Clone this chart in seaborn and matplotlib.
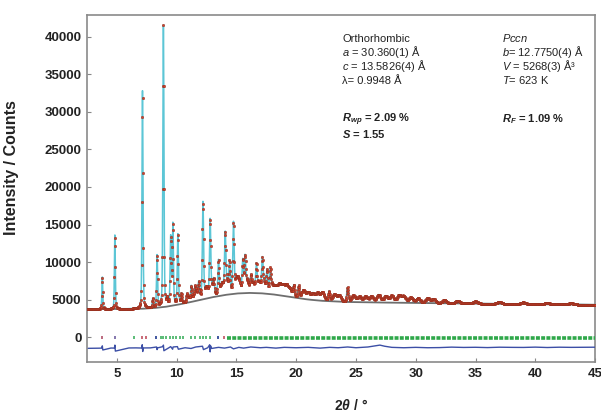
import numpy as np
import pandas as pd
import matplotlib
matplotlib.use("Agg")
import matplotlib.pyplot as plt
import seaborn as sns

# ---------------- data ----------------
# background control points (2theta, counts)
bg_tth = [2.5, 5.0, 7.0, 8.0, 9.0, 10.0, 11.0, 12.0, 13.0, 14.0, 15.0, 16.0,
          17.0, 18.0, 19.0, 20.0, 21.0, 22.0, 24.0, 26.0, 30.0, 35.0, 40.0, 45.0]
bg_cnt = [3750, 3750, 3780, 3870, 4030, 4300, 4620, 4980, 5330, 5620, 5820, 5900,
          5860, 5720, 5480, 5230, 5020, 4860, 4700, 4640, 4560, 4470, 4400, 4320]

# main reflections: position (deg) and height above background (counts)
pk_pos = [3.78, 4.83, 7.14, 8.00, 8.36, 8.89, 9.20, 9.50, 9.68, 10.10, 10.40,
          10.85, 11.22, 11.55, 11.85, 12.20, 12.80, 13.10, 13.50, 14.06, 14.42,
          14.75, 15.53, 15.72, 16.20, 16.67, 17.17, 17.56, 17.83, 19.80, 20.20,
          22.75, 24.30]
pk_hgt = [4250, 9850, 29000, 1200, 6900, 37400, 900, 9000, 10700, 9300, 1300,
          900, 1900, 1000, 1400, 12800, 10000, 1500, 4600, 7400, 4000,
          9200, 4200, 4300, 1800, 3400, 3800, 2900, 2900, 1500, 1600,
          1300, 1900]

# weak / overlapping reflections forming the diffuse hump
wk_pos = [11.0, 11.5, 11.8, 12.5, 13.0, 13.8, 14.2, 15.0, 15.2, 15.9, 16.4,
          16.9, 17.3, 18.0, 18.3, 18.6, 18.9, 19.2, 19.5, 20.6, 21.0, 21.4,
          21.8, 22.2, 23.2, 23.6, 24.8, 25.3, 25.8, 26.3, 26.9, 27.5, 28.0,
          28.6, 29.0, 29.6, 30.2, 31.0, 31.5, 32.4, 33.5, 35.0, 37.0, 39.0,
          41.0, 43.0]
wk_hgt = [600, 900, 1000, 1300, 1100, 1500, 1300, 1500, 1300, 1400, 1200,
          1300, 1200, 1000, 900, 1300, 1200, 1300, 900, 1100, 900, 850,
          950, 1100, 900, 800, 850, 700, 750, 800, 1000, 850, 900,
          950, 850, 700, 600, 650, 500, 400, 350, 300, 250, 220,
          200, 180]

# Bragg reflection markers at low angle (deg) and their colours
tick_pos = [3.78, 4.83, 6.44, 7.14, 7.47, 8.30, 8.67, 8.89, 9.14, 9.42, 9.69,
            9.97, 10.25, 10.53, 11.22, 11.50, 11.92, 12.19, 12.47, 12.75, 13.44,
            13.94]
tick_col = ["#b0506a", "#7060a0", "#40b060", "#c05060", "#c05060", "#203a90",
            "#40b060", "#40b060", "#40b060", "#40b060", "#40b060", "#40b060",
            "#40b060", "#40b060", "#40b060", "#40b060", "#40b060", "#40b060",
            "#40b060", "#40b060", "#203a90", "#c05060"]
band_start, band_end = 14.2, 45.0

# difference curve (obs - calc, offset)
df_tth = [2.6, 3.5, 3.74, 3.78, 3.82, 4.5, 4.79, 4.83, 4.87, 6.0, 6.6, 7.08, 7.12,
          7.16, 7.20, 7.8, 8.32, 8.36, 8.40, 8.85, 8.89, 8.93, 9.3, 9.50, 9.66,
          9.70, 10.06, 10.14, 10.7, 11.2, 11.6, 12.16, 12.24, 12.6, 12.76, 12.80,
          12.84, 12.9, 13.5, 14.0, 14.5, 14.75, 15.2, 15.6, 16.2, 17.0, 17.5,
          18.3, 19.0, 20.0, 21.0, 22.0, 22.8, 23.5, 24.3, 25.0, 26.0, 26.6,
          27.0, 27.4, 28.0, 29.0, 30.0, 31.0, 32.0, 33.0, 34.0, 35.0, 36.0,
          37.0, 38.0, 39.0, 40.0, 41.0, 42.0, 43.0, 44.0, 45.0]
df_cnt = [-1480, -1460, -1450, -1150, -1700, -1440, -1450, -1050, -1850, -1430,
          -1420, -1440, -1000, -1900, -1430, -1420, -1300, -1650, -1420, -1250,
          -1050, -1800, -1450, -1250, -1600, -1300, -1250, -1600, -1400, -1500,
          -1300, -1200, -1650, -1400, -1000, -1950, -1150, -1500, -1350, -1450,
          -1300, -1550, -1350, -1450, -1300, -1400, -1350, -1450, -1350, -1400,
          -1350, -1450, -1350, -1400, -1300, -1400, -1300, -1150, -1050, -1200,
          -1350, -1400, -1350, -1400, -1380, -1320, -1360, -1340, -1380, -1330,
          -1350, -1360, -1320, -1370, -1330, -1350, -1340, -1330]

# annotation text
col1 = ["Orthorhombic", r"$a$ = 30.360(1) Å", r"$c$ = 13.5826(4) Å",
        "λ= 0.9948 Å"]
col2 = [r"$Pccn$", r"$b$= 12.7750(4) Å", r"$V$ = 5268(3) Å³", r"$T$= 623 K"]
fit1 = [r"$\mathbfit{R}_{\mathbfit{wp}}$ = 2.09 %", r"$\mathbfit{S}$ = 1.55"]
fit2 = [r"$\mathbfit{R}_{\mathbfit{F}}$ = 1.09 %"]

# ---------------- build profile from the reflection list ----------------
grid = np.arange(2.5, 45.001, 0.01)
bg = np.interp(grid, bg_tth, bg_cnt)


def pv(x, x0, h, w, eta=0.35):
    g = np.exp(-4 * np.log(2) * ((x - x0) / w) ** 2)
    l = 1.0 / (1.0 + 4 * ((x - x0) / w) ** 2)
    return h * (eta * l + (1 - eta) * g)


calc = bg.copy()
for p, h in zip(pk_pos, pk_hgt):
    calc += pv(grid, p, h, 0.07 + 0.004 * p)
for p, h in zip(wk_pos, wk_hgt):
    calc += pv(grid, p, h, 0.22 + 0.006 * p, eta=0.2)

prof = pd.DataFrame({"tth": grid, "calc": calc, "bg": bg})
obs = prof.iloc[::3]
diff = pd.DataFrame({"tth": df_tth, "d": df_cnt})

# ---------------- plotting ----------------
sns.set_theme(style="white")
plt.rcParams["font.family"] = ["Liberation Sans", "DejaVu Sans"]
plt.rcParams["mathtext.fontset"] = "custom"
plt.rcParams["mathtext.rm"] = "Liberation Sans"
plt.rcParams["mathtext.it"] = "Liberation Sans:italic"
plt.rcParams["mathtext.bf"] = "Liberation Sans:bold"
plt.rcParams["mathtext.bfit"] = "Liberation Sans:italic:bold"

fig = plt.figure(figsize=(6.01, 4.15), dpi=100)
ax = fig.add_axes([0.1448, 0.1277, 0.8453, 0.8362])

sns.lineplot(data=prof, x="tth", y="calc", ax=ax, color="#5cc6d6", lw=1.1,
             sort=False, estimator=None, zorder=2)
sns.lineplot(data=prof, x="tth", y="bg", ax=ax, color="#6e6e6e", lw=1.3,
             sort=False, estimator=None, zorder=3)
sns.scatterplot(data=obs, x="tth", y="calc", ax=ax, s=3.5, color="#d2402a",
                edgecolor="#7a2a1c", linewidth=0.25, zorder=4)
sns.lineplot(data=diff, x="tth", y="d", ax=ax, color="#3c4fa6", lw=1.0,
             sort=False, estimator=None, zorder=3)

ax.vlines(tick_pos, -300, 200, colors=tick_col, lw=1.2, zorder=3)
ax.plot([band_start, band_end], [-80, -80], color="#2fa84a", lw=2.6,
        dashes=(1.1, 0.35), solid_capstyle="butt", zorder=3)

ax.set_xlim(2.5, 45)
ax.set_ylim(-3300, 42900)
ax.set_xticks([5, 10, 15, 20, 25, 30, 35, 40, 45])
ax.set_yticks(range(0, 40001, 5000))
for lab in ax.get_xticklabels() + ax.get_yticklabels():
    lab.set_fontweight("bold")
    lab.set_fontsize(9.5)
    lab.set_color("#222222")
ax.tick_params(axis="both", direction="in", length=3, width=0.8,
               color="#888888", pad=4, left=True, bottom=True)
for s in ax.spines.values():
    s.set_color("#8a8a8a")
    s.set_linewidth(1.2)

ax.set_xlabel(r"2$\mathbfit{\theta}$ / °", fontsize=10, fontweight="bold",
              color="#222222")
ax.set_ylabel("Intensity / Counts", fontsize=11.5, fontweight="bold",
              color="#222222")
ax.xaxis.set_label_coords(0.52, -0.105)
ax.yaxis.set_label_coords(-0.134, 0.56)

H = 415
common = dict(fontsize=8.0, color="#222222", va="baseline", ha="left")
for i, (s1, s2) in enumerate(zip(col1, col2)):
    yb = 42 + 13.9 * i
    fig.text(342 / 601, 1 - yb / H, s1, **common)
    fig.text(502 / 601, 1 - yb / H, s2, **common)
for i, s in enumerate(fit1):
    fig.text(342 / 601, 1 - (122 + 15.5 * i) / H, s, fontweight="bold", **common)
for i, s in enumerate(fit2):
    fig.text(502 / 601, 1 - (122 + 15.5 * i) / H, s, fontweight="bold", **common)

fig.savefig("out.png", dpi=100)
